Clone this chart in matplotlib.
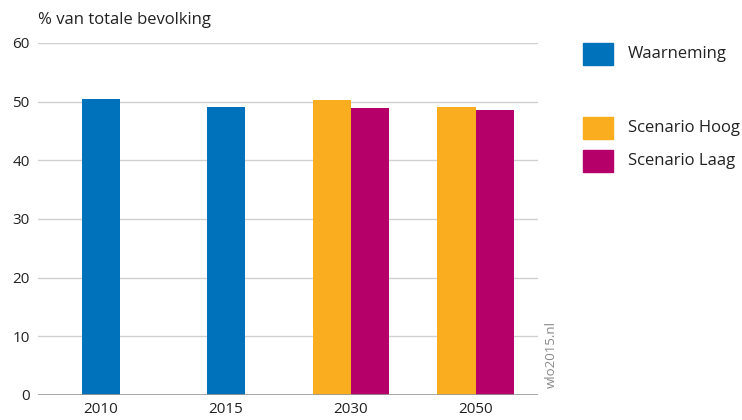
import numpy as np
import matplotlib.pyplot as plt
from matplotlib.patches import Rectangle

plt.rcParams['font.family'] = ['Open Sans', 'DejaVu Sans']

# data
jaren = ['2010', '2015', '2030', '2050']
waarneming = [50.45, 49.1, None, None]
scenario_hoog = [None, None, 50.3, 49.1]
scenario_laag = [None, None, 48.9, 48.6]

kleur_w = '#0071bb'
kleur_h = '#f9ad1f'
kleur_l = '#b5006a'

fig = plt.figure(figsize=(7.42, 4.2), dpi=100)
ax = fig.add_axes([38/742, 1-395/420, 500/742, 352/420])

x = np.arange(len(jaren))
w = 0.304

xw = [x[i] for i in range(len(jaren)) if waarneming[i] is not None]
yw = [v for v in waarneming if v is not None]
ax.bar(xw, yw, width=w, color=kleur_w, zorder=3)

xs = [x[i] for i in range(len(jaren)) if scenario_hoog[i] is not None]
yh = [v for v in scenario_hoog if v is not None]
yl = [v for v in scenario_laag if v is not None]
ax.bar(np.array(xs) - w/2, yh, width=w, color=kleur_h, zorder=3)
ax.bar(np.array(xs) + w/2, yl, width=w, color=kleur_l, zorder=3)

ax.set_xlim(-0.5, 3.5)
ax.set_ylim(0, 60)
ax.set_yticks(range(0, 61, 10))
ax.set_xticks(x)
ax.set_xticklabels(jaren)
for s in ax.spines.values():
    s.set_visible(False)
ax.grid(axis='y', color='#d0d0d0', linewidth=1, zorder=0)
ax.axhline(0, color='#999999', linewidth=1.2, zorder=4)
ax.tick_params(length=0, labelsize=11, colors='#222222')
ax.tick_params(axis='y', pad=6)
ax.tick_params(axis='x', pad=5)

fig.text(38/742, 1-20/420, '% van totale bevolking', fontsize=12,
         color='#222222', va='center', ha='left')

# legend
items = [('Waarneming', kleur_w, 54), ('Scenario Hoog', kleur_h, 128),
         ('Scenario Laag', kleur_l, 161)]
for naam, kl, yc in items:
    fig.add_artist(Rectangle((583/742, 1-(yc+11)/420), 30/742, 22/420,
                             transform=fig.transFigure, color=kl))
    fig.text(628/742, 1-yc/420, naam, fontsize=12, color='#222222',
             va='center', ha='left')

fig.text(551/742, 1-354/420, 'wlo2015.nl', rotation=90, fontsize=9.5,
         color='#888888', va='center', ha='center')

fig.savefig('out.png', dpi=100)
